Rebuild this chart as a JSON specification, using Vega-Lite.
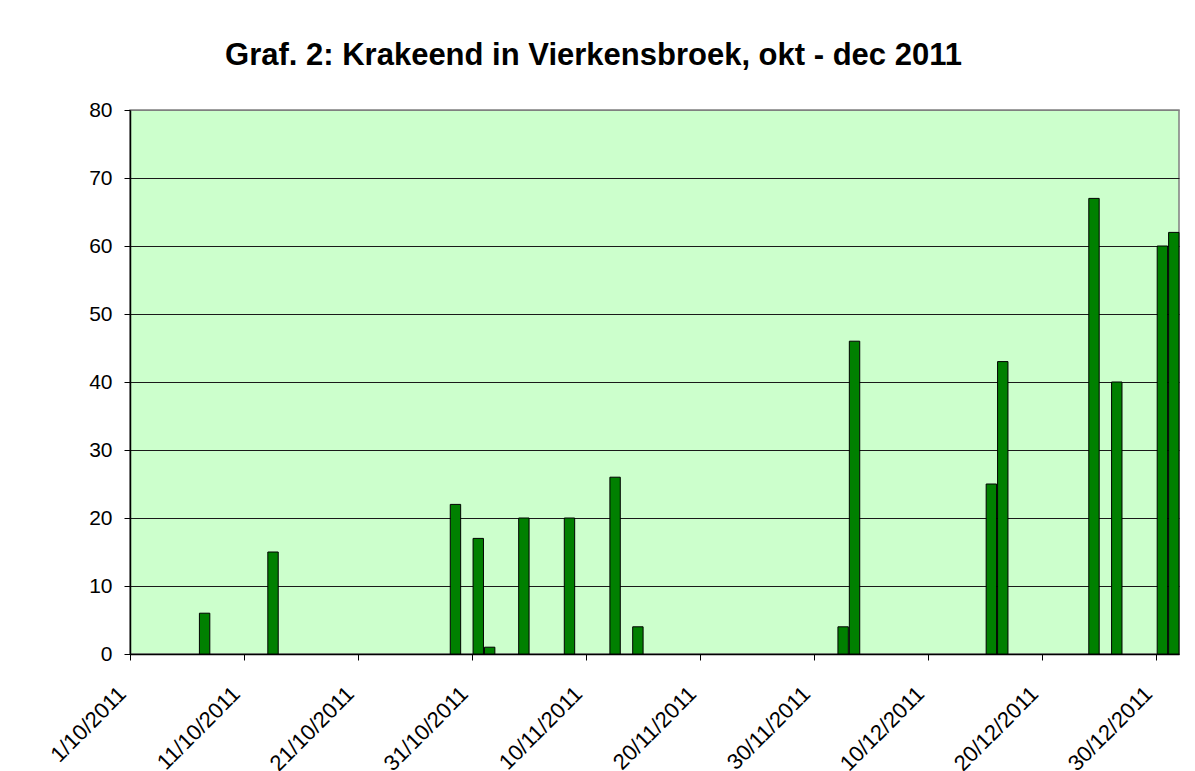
{
  "$schema": "https://vega.github.io/schema/vega-lite/v6.json",
  "autosize": "none",
  "width": 1049,
  "height": 544,
  "padding": {"left": 130, "top": 110, "right": 16, "bottom": 117},
  "background": "white",
  "title": {
    "text": "Graf. 2: Krakeend in Vierkensbroek, okt - dec 2011",
    "font": "Liberation Sans",
    "fontSize": 31,
    "fontWeight": "bold",
    "color": "#000000",
    "anchor": "middle",
    "dx": -61,
    "offset": 27
  },
  "data": {
    "values": [
      {"date": "2011-10-07", "count": 6},
      {"date": "2011-10-13", "count": 15},
      {"date": "2011-10-29", "count": 22},
      {"date": "2011-10-31", "count": 17},
      {"date": "2011-11-01", "count": 1},
      {"date": "2011-11-04", "count": 20},
      {"date": "2011-11-08", "count": 20},
      {"date": "2011-11-12", "count": 26},
      {"date": "2011-11-14", "count": 4},
      {"date": "2011-12-02", "count": 4},
      {"date": "2011-12-03", "count": 46},
      {"date": "2011-12-15", "count": 25},
      {"date": "2011-12-16", "count": 43},
      {"date": "2011-12-24", "count": 67},
      {"date": "2011-12-26", "count": 40},
      {"date": "2011-12-30", "count": 60},
      {"date": "2011-12-31", "count": 62}
    ]
  },
  "mark": {
    "type": "bar",
    "color": "#008000",
    "stroke": "#000000",
    "strokeWidth": 1,
    "timeUnitBandSize": 0.46
  },
  "encoding": {
    "x": {
      "field": "date",
      "type": "temporal",
      "timeUnit": "utcyearmonthdate",
      "scale": {
        "type": "utc",
        "domain": [
          {"year": 2011, "month": 10, "date": 1, "utc": true},
          {"year": 2012, "month": 1, "date": 1, "utc": true}
        ]
      },
      "axis": {
        "title": null,
        "values": [
          {"year": 2011, "month": 10, "date": 1, "utc": true},
          {"year": 2011, "month": 10, "date": 11, "utc": true},
          {"year": 2011, "month": 10, "date": 21, "utc": true},
          {"year": 2011, "month": 10, "date": 31, "utc": true},
          {"year": 2011, "month": 11, "date": 10, "utc": true},
          {"year": 2011, "month": 11, "date": 20, "utc": true},
          {"year": 2011, "month": 11, "date": 30, "utc": true},
          {"year": 2011, "month": 12, "date": 10, "utc": true},
          {"year": 2011, "month": 12, "date": 20, "utc": true},
          {"year": 2011, "month": 12, "date": 30, "utc": true}
        ],
        "labelExpr": "utcFormat(datum.value, '%-d/%-m/%Y')",
        "labelAngle": -45,
        "labelAlign": "right",
        "labelBaseline": "middle",
        "labelFont": "Liberation Sans",
        "labelFontSize": 22,
        "labelColor": "#000000",
        "labelPadding": 30,
        "labelOffset": -8,
        "labelOverlap": false,
        "labelBound": false,
        "labelFlush": false,
        "tickSize": 6,
        "tickColor": "#000000",
        "domainColor": "#000000",
        "domainWidth": 1.5,
        "grid": false
      }
    },
    "y": {
      "field": "count",
      "type": "quantitative",
      "scale": {"domain": [0, 80], "nice": false},
      "axis": {
        "title": null,
        "values": [0, 10, 20, 30, 40, 50, 60, 70, 80],
        "labelFont": "Liberation Sans",
        "labelFontSize": 21,
        "labelColor": "#000000",
        "labelPadding": 12,
        "tickSize": 6,
        "tickColor": "#000000",
        "domainColor": "#000000",
        "domainWidth": 1.5,
        "grid": true,
        "gridColor": {"condition": {"test": "datum.value === 80", "value": "#808080"}, "value": "#1a1a1a"},
        "gridWidth": 1
      }
    }
  },
  "config": {
    "view": {"fill": "#CCFFCC", "stroke": "#808080", "strokeWidth": 1.5}
  }
}
